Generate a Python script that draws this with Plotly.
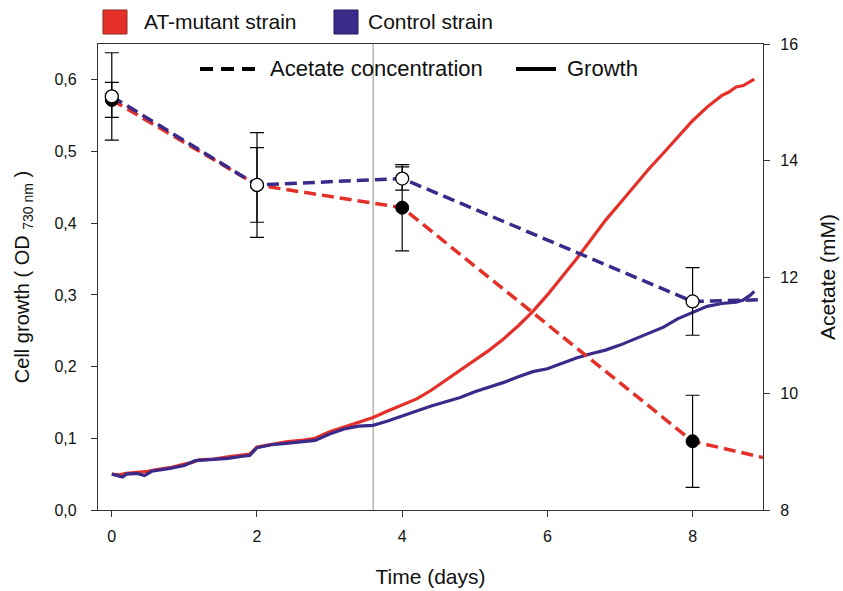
import plotly.graph_objects as go

# ---------------- data ----------------
growth_days_at = [0.0, 0.1, 0.2, 0.3, 0.4, 0.5, 0.6, 0.8, 1.0, 1.1, 1.2, 1.4, 1.6, 1.8, 1.9, 2.0,
                  2.2, 2.4, 2.6, 2.8, 3.0, 3.2, 3.4, 3.6, 3.8, 4.0, 4.2, 4.4, 4.6, 4.8, 5.0,
                  5.2, 5.4, 5.6, 5.8, 6.0, 6.2, 6.4, 6.6, 6.8, 7.0, 7.2, 7.4, 7.6, 7.8, 8.0,
                  8.2, 8.4, 8.5, 8.6, 8.7, 8.8, 8.85]
growth_at = [0.050, 0.049, 0.051, 0.052, 0.052, 0.054, 0.056, 0.059, 0.064, 0.066, 0.070, 0.071,
             0.074, 0.077, 0.078, 0.088, 0.092, 0.095, 0.097, 0.100, 0.109, 0.116, 0.122, 0.129,
             0.138, 0.146, 0.155, 0.167, 0.181, 0.195, 0.209, 0.223, 0.239, 0.257, 0.277, 0.300,
             0.325, 0.350, 0.377, 0.404, 0.428, 0.452, 0.476, 0.498, 0.520, 0.543, 0.562, 0.578,
             0.583, 0.590, 0.592, 0.598, 0.601]

growth_days_ctrl = [0.0, 0.1, 0.15, 0.2, 0.35, 0.45, 0.55, 0.8, 1.0, 1.15, 1.4, 1.6, 1.8, 1.9, 2.0,
                    2.2, 2.4, 2.6, 2.8, 3.0, 3.2, 3.4, 3.6, 3.8, 4.0, 4.2, 4.4, 4.6, 4.8, 5.0,
                    5.2, 5.4, 5.6, 5.8, 6.0, 6.2, 6.4, 6.6, 6.8, 7.0, 7.2, 7.4, 7.6, 7.8, 8.0,
                    8.2, 8.4, 8.6, 8.7, 8.8, 8.85]
growth_ctrl = [0.050, 0.048, 0.046, 0.050, 0.051, 0.048, 0.054, 0.058, 0.062, 0.069, 0.071, 0.072,
               0.075, 0.076, 0.087, 0.091, 0.093, 0.095, 0.097, 0.106, 0.113, 0.117, 0.118, 0.124,
               0.131, 0.139, 0.145, 0.151, 0.157, 0.165, 0.171, 0.178, 0.186, 0.193, 0.197, 0.205,
               0.212, 0.218, 0.223, 0.230, 0.238, 0.247, 0.255, 0.267, 0.276, 0.284, 0.288, 0.290,
               0.293, 0.300, 0.305]

acet_days = [0, 2, 4, 8]
acet_at = [15.04, 13.58, 13.19, 9.18]
acet_at_err = [0.30, 0.64, 0.74, 0.79]
acet_ctrl = [15.10, 13.58, 13.69, 11.58]
acet_ctrl_err = [0.75, 0.90, 0.20, 0.58]
acet_line_days_at = [0, 2, 4, 8, 8.97]
acet_line_at = [15.04, 13.58, 13.19, 9.18, 8.90]
acet_line_days_ctrl = [0, 2, 4, 8, 8.97]
acet_line_ctrl = [15.10, 13.58, 13.69, 11.58, 11.61]

marker_day = 3.6

left_ticks = [0, 0.1, 0.2, 0.3, 0.4, 0.5, 0.6]
left_labels = ["0,0", "0,1", "0,2", "0,3", "0,4", "0,5", "0,6"]
right_ticks = [8, 10, 12, 14, 16]
x_ticks = [0, 2, 4, 6, 8]

RED = "#e5302a"
BLUE = "#3b2a8a"
FONT = "Liberation Sans, Arial, sans-serif"

fig = go.Figure()

fig.add_trace(go.Scatter(x=growth_days_at, y=growth_at, mode="lines",
                         line=dict(color=RED, width=3.2), showlegend=False))
fig.add_trace(go.Scatter(x=growth_days_ctrl, y=growth_ctrl, mode="lines",
                         line=dict(color=BLUE, width=3.2), showlegend=False))

fig.add_trace(go.Scatter(x=acet_line_days_at, y=acet_line_at, mode="lines", yaxis="y2",
                         line=dict(color=RED, width=3.5, dash="12px,6px"), showlegend=False))
fig.add_trace(go.Scatter(x=acet_line_days_ctrl, y=acet_line_ctrl, mode="lines", yaxis="y2",
                         line=dict(color=BLUE, width=3.5, dash="12px,6px"), showlegend=False))

fig.add_trace(go.Scatter(x=acet_days, y=acet_at, mode="markers", yaxis="y2",
                         marker=dict(color="black", size=13, line=dict(color="black", width=1)),
                         error_y=dict(type="data", array=acet_at_err, color="black",
                                      thickness=1.2, width=7),
                         showlegend=False))
fig.add_trace(go.Scatter(x=acet_days, y=acet_ctrl, mode="markers", yaxis="y2",
                         marker=dict(color="white", size=13, line=dict(color="black", width=1.3)),
                         error_y=dict(type="data", array=acet_ctrl_err, color="black",
                                      thickness=1.2, width=7),
                         showlegend=False))

# vertical reference line
fig.add_shape(type="line", xref="x", yref="paper", x0=marker_day, x1=marker_day, y0=0, y1=1,
              line=dict(color="#b8b3ae", width=1.5), layer="below")

# ---- legend drawn as shapes / annotations (paper coords) ----
def px2x(px):
    return (px - 98) / 665.0

def py2y(py):
    return (510 - py) / 466.0

fig.add_shape(type="rect", xref="paper", yref="paper", x0=px2x(103), x1=px2x(127),
              y0=py2y(34), y1=py2y(10), fillcolor=RED, line=dict(color="#8a2a20", width=1))
fig.add_annotation(xref="paper", yref="paper", x=px2x(142), y=py2y(22), xanchor="left",
                   yanchor="middle", text="AT-mutant strain", showarrow=False,
                   font=dict(family=FONT, size=21, color="#111"))
fig.add_shape(type="rect", xref="paper", yref="paper", x0=px2x(334), x1=px2x(358),
              y0=py2y(34), y1=py2y(10), fillcolor=BLUE, line=dict(color="#221a60", width=1))
fig.add_annotation(xref="paper", yref="paper", x=px2x(366), y=py2y(22), xanchor="left",
                   yanchor="middle", text="Control strain", showarrow=False,
                   font=dict(family=FONT, size=21, color="#111"))

fig.add_shape(type="line", xref="paper", yref="paper", x0=px2x(200), x1=px2x(255),
              y0=py2y(69), y1=py2y(69), line=dict(color="black", width=4, dash="13px,8px"))
fig.add_annotation(xref="paper", yref="paper", x=px2x(268), y=py2y(69), xanchor="left",
                   yanchor="middle", text="Acetate concentration", showarrow=False,
                   font=dict(family=FONT, size=22, color="#111"))
fig.add_shape(type="line", xref="paper", yref="paper", x0=px2x(516), x1=px2x(556),
              y0=py2y(69), y1=py2y(69), line=dict(color="black", width=4))
fig.add_annotation(xref="paper", yref="paper", x=px2x(565), y=py2y(69), xanchor="left",
                   yanchor="middle", text="Growth", showarrow=False,
                   font=dict(family=FONT, size=22, color="#111"))

axis_common = dict(showgrid=False, zeroline=False, showline=True, linecolor="#333",
                   linewidth=1.3, ticks="outside", ticklen=6, tickcolor="#333",
                   tickfont=dict(family=FONT, size=16, color="#111"))

fig.update_layout(
    width=843, height=591,
    margin=dict(l=98, r=80, t=44, b=81, autoexpand=False),
    paper_bgcolor="white", plot_bgcolor="white",
    showlegend=False,
    xaxis=dict(range=[-0.19, 8.97], tickvals=x_ticks, mirror=True,
               title=dict(text="Time (days)", font=dict(family=FONT, size=21, color="#111"),
                          standoff=24),
               ticklabelstandoff=6,
               **axis_common),
    yaxis=dict(range=[0, 0.65], tickvals=left_ticks, ticktext=left_labels,
               title=dict(text="Cell growth ( OD <sub>730 nm</sub> )",
                          font=dict(family=FONT, size=20, color="#111"), standoff=19),
               ticklabelstandoff=11,
               **axis_common),
    yaxis2=dict(range=[8, 16], tickvals=right_ticks, overlaying="y", side="right",
                title=dict(text="Acetate (mM)", font=dict(family=FONT, size=21, color="#111"),
                           standoff=23),
                ticklabelstandoff=7,
                **axis_common),
)

fig.write_html("out.html", post_script="document.body.style.margin='0px';",
               config={"displayModeBar": False})
